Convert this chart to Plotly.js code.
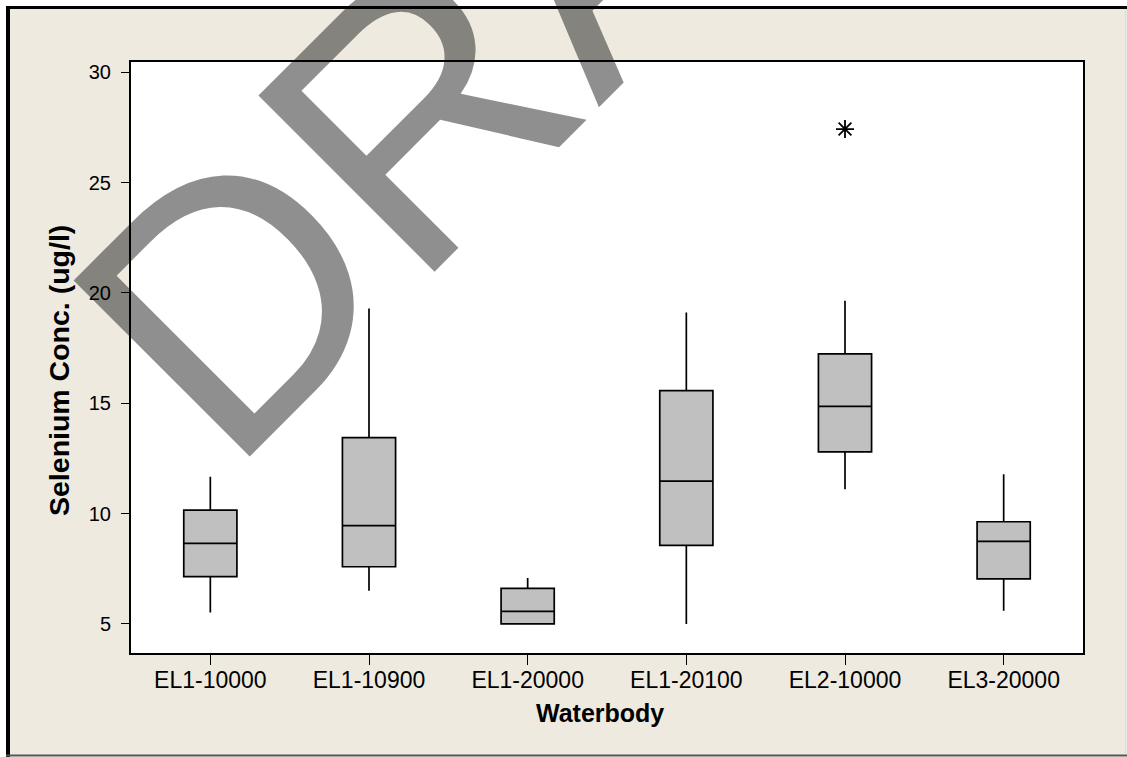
<!DOCTYPE html>
<html>
<head>
<meta charset="utf-8">
<script src="https://cdn.plot.ly/plotly-3.0.1.min.js"></script>
<style>
  html, body { margin: 0; padding: 0; background: #ffffff; }
  #chart { width: 1127px; height: 757px; }
</style>
</head>
<body>
<div id="chart"></div>
<script>
// Data
var categories = ["EL1-10000", "EL1-10900", "EL1-20000", "EL1-20100", "EL2-10000", "EL3-20000"];
var lowerWhisker = [5.52, 6.50, 5.00, 4.99, 11.10, 5.59];
var q1Values     = [7.14, 7.59, 5.00, 8.56, 12.80, 7.04];
var medianValues = [8.65, 9.45, 5.57, 11.47, 14.86, 8.74];
var q3Values     = [10.16, 13.44, 6.61, 15.57, 17.24, 9.63];
var upperWhisker = [11.67, 19.30, 7.08, 19.12, 19.65, 11.78];
var outlierCategories = ["EL2-10000"];
var outlierValues = [27.43];
var yTicks = [5, 10, 15, 20, 25, 30];
var watermarkText = "DRAFT";

// Layout helpers (pixel -> paper)
var W = 1127, H = 757;
var M = {l: 131, r: 44, t: 62, b: 104};
var PW = W - M.l - M.r, PH = H - M.t - M.b;
function px(x) { return (x - M.l) / PW; }
function py(y) { return (H - M.b - y) / PH; }

var boxTrace = {
  type: "box",
  x: categories,
  q1: q1Values,
  median: medianValues,
  q3: q3Values,
  lowerfence: lowerWhisker,
  upperfence: upperWhisker,
  width: 0.335,
  whiskerwidth: 0,
  fillcolor: "#c0c0c0",
  line: {color: "#000000", width: 1.7},
  boxpoints: false,
  hoverinfo: "skip",
  showlegend: false
};

var outlierTrace = {
  type: "scatter",
  mode: "markers",
  x: outlierCategories,
  y: outlierValues,
  marker: {symbol: "asterisk-open", size: 15, color: "#000000", line: {color: "#000000", width: 1.8}},
  hoverinfo: "skip",
  showlegend: false
};

var fontFam = "Liberation Sans, Arial, sans-serif";

var layout = {
  width: W, height: H,
  margin: M,
  paper_bgcolor: "#ffffff",
  plot_bgcolor: "#ffffff",
  showlegend: false,
  font: {family: fontFam, color: "#000000", size: 19},
  xaxis: {
    type: "category",
    categoryorder: "array",
    categoryarray: categories,
    range: [-0.5, 5.5],
    showline: true, mirror: true, linecolor: "#000000", linewidth: 2,
    ticks: "outside", ticklen: 10, tickwidth: 1, tickcolor: "#000000",
    ticklabelstandoff: -5,
    showgrid: false, zeroline: false,
    tickfont: {family: fontFam, size: 23, color: "#000000"}
  },
  yaxis: {
    range: [3.68, 30.47],
    tickvals: yTicks,
    ticktext: yTicks.map(String),
    showline: true, mirror: true, linecolor: "#000000", linewidth: 2,
    ticks: "outside", ticklen: 8, tickwidth: 1, tickcolor: "#000000",
    ticklabelstandoff: 6,
    showgrid: false, zeroline: false,
    tickfont: {family: fontFam, size: 20, color: "#000000"}
  },
  shapes: [
    {type: "rect", xref: "paper", yref: "paper", layer: "below",
     x0: px(8), x1: px(1126), y0: py(755), y1: py(7.5),
     fillcolor: "#eeeae0", line: {width: 0}},
    {type: "rect", xref: "paper", yref: "paper", layer: "below",
     x0: 0, x1: 1, y0: 0, y1: 1,
     fillcolor: "#ffffff", line: {width: 0}},
    {type: "line", xref: "paper", yref: "paper", layer: "below",
     x0: px(8), x1: px(8), y0: py(757), y1: py(6), line: {color: "#000000", width: 4}},
    {type: "line", xref: "paper", yref: "paper", layer: "below",
     x0: px(6), x1: px(1127), y0: py(7.5), y1: py(7.5), line: {color: "#000000", width: 3}},
    {type: "line", xref: "paper", yref: "paper", layer: "below",
     x0: px(6), x1: px(1127), y0: py(755.5), y1: py(755.5), line: {color: "#555555", width: 2}},
    {type: "line", xref: "paper", yref: "paper", layer: "below",
     x0: px(1126), x1: px(1126), y0: py(754), y1: py(9), line: {color: "#d0d0d0", width: 1}}
  ],
  annotations: [
    {xref: "paper", yref: "paper", x: px(59), y: py(371), xanchor: "center", yanchor: "middle",
     text: "<b>Selenium Conc. (ug/l)</b>", textangle: -90, showarrow: false,
     font: {family: fontFam, size: 28.5, color: "#000000"}},
    {xref: "paper", yref: "paper", x: px(600), y: py(713), xanchor: "center", yanchor: "middle",
     text: "<b>Waterbody</b>", showarrow: false,
     font: {family: fontFam, size: 25, color: "#000000"}},
    {xref: "paper", yref: "paper", x: px(566), y: py(-38), xanchor: "center", yanchor: "middle",
     text: watermarkText, textangle: -45, showarrow: false,
     font: {family: fontFam, size: 362, color: "rgba(0,0,0,0.44)"}}
  ]
};

Plotly.newPlot("chart", [boxTrace, outlierTrace], layout, {staticPlot: true, displayModeBar: false});
</script>
</body>
</html>
